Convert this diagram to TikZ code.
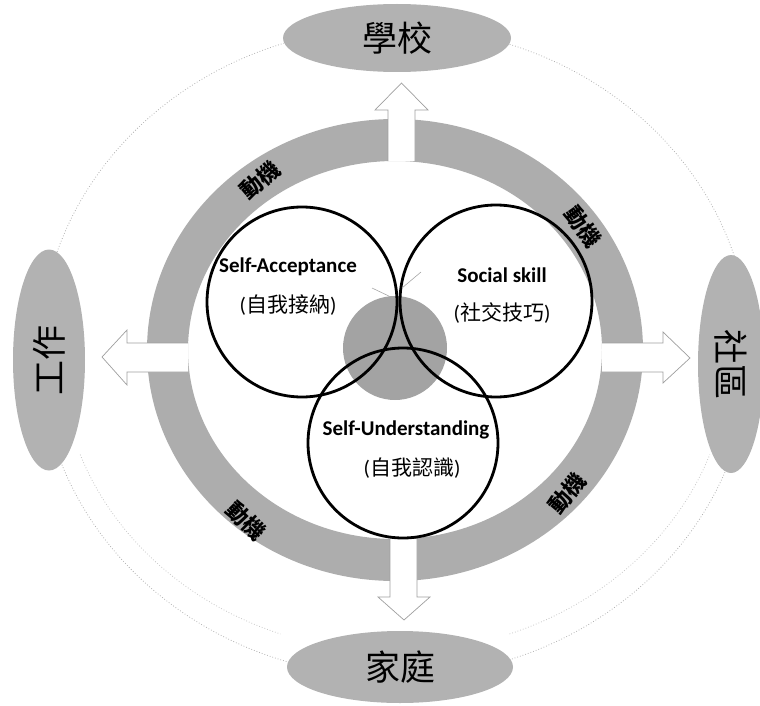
\documentclass[tikz,border=0pt]{standalone}
\usepackage{fontspec}
\setmainfont{Carlito}
\newfontfamily\cjk{Noto Sans CJK TC}
\usetikzlibrary{shapes.geometric}
\definecolor{ringgray}{gray}{0.68}
\definecolor{ellgray}{gray}{0.70}
\definecolor{centgray}{gray}{0.64}
\tikzset{
  placebox/.style={ellipse, fill=ellgray, inner sep=0pt, font=\cjk\fontsize{35}{35}\selectfont},
  bigarrow/.style={fill=white},
  arrowline/.style={draw=gray!75, line width=0.7pt},
  circ/.style={circle, draw=black, line width=2.8pt, inner sep=0pt},
  entxt/.style={font=\bfseries\fontsize{21}{24}\selectfont},
  zhtxt/.style={font=\fontsize{21}{24}\selectfont},
  ringtxt/.style={font=\cjk\bfseries\fontsize{22}{22}\selectfont, inner sep=0pt},
  faintdot/.style={draw=gray!60, dotted, line width=0.8pt}
}
\begin{document}
\begin{tikzpicture}[x=1pt,y=-1pt]
\useasboundingbox (0,0) rectangle (760,706);
\coordinate (c) at (395,352);
% faint outer dotted orbit
\draw[faintdot] (c) ellipse [x radius=355pt, y radius=325pt];
\draw[faintdot, draw=gray!45] (c) ++(200:335pt and 300pt) arc[start angle=200, end angle=250, x radius=335pt, y radius=300pt];
\draw[faintdot, draw=gray!45] (c) ++(290:335pt and 300pt) arc[start angle=290, end angle=340, x radius=335pt, y radius=300pt];
% outer ellipses
\node[placebox, minimum width=228pt, minimum height=68pt] (school) at (397,38) {學校};
\node[placebox, minimum width=226pt, minimum height=72pt] (home) at (400,667) {家庭};
\node[placebox, minimum width=221pt, minimum height=72pt, rotate=90] (work) at (49,360) {工作};
\node[placebox, minimum width=218pt, minimum height=66pt, rotate=-90] (comm) at (731,364) {社區};
% ring
\fill[ringgray, even odd rule] (395,350) ellipse [x radius=248pt, y radius=231pt]
                               (395,350) ellipse [x radius=207pt, y radius=189pt];
% block arrows
\fill[bigarrow] (388,161) -- (388,110) -- (375,110) -- (401.5,83) -- (428,110) -- (415,110) -- (415,161) -- cycle;
\draw[arrowline] (388,161) -- (388,110) -- (375,110) -- (401.5,83) -- (428,110) -- (415,110) -- (415,161);
\fill[bigarrow] (390,539) -- (390,597) -- (378,597) -- (404,620) -- (430,597) -- (417,597) -- (417,539) -- cycle;
\draw[arrowline] (390,539) -- (390,597) -- (378,597) -- (404,620) -- (430,597) -- (417,597) -- (417,539);
\fill[bigarrow] (188,343) -- (127,343) -- (127,330) -- (102,357) -- (127,385) -- (127,372) -- (188,372) -- cycle;
\draw[arrowline] (188,343) -- (127,343) -- (127,330) -- (102,357) -- (127,385) -- (127,372) -- (188,372);
\fill[bigarrow] (602,343) -- (663,343) -- (663,332) -- (690,358) -- (663,383) -- (663,372) -- (602,372) -- cycle;
\draw[arrowline] (602,343) -- (663,343) -- (663,332) -- (690,358) -- (663,383) -- (663,372) -- (602,372);
% central gray disc
\node[circle, fill=centgray, minimum size=104pt, inner sep=0pt] (core) at (395,348) {};
% three circles
\node[circ, minimum size=190pt] (acc) at (302,302) {};
\node[circ, minimum size=192pt] (soc) at (496,301) {};
\node[circ, minimum size=190pt] (und) at (403,443) {};
% small strokes near the top meeting point
\draw[gray!70, line width=0.6pt] (372,288) -- (393,298);
\draw[gray!70, line width=0.6pt] (421,272) -- (402,288);
% circle texts
\node[entxt] (accA) at (288,267) {Self-Acceptance};
\node[zhtxt] (accB) at (288,305) {({\cjk 自我接納})};
\node[entxt] (socA) at (502,275) {Social skill};
\node[zhtxt] (socB) at (502,313) {({\cjk 社交技巧})};
\node[entxt] (undA) at (406,430) {Self-Understanding};
\node[zhtxt] (undB) at (412,468) {({\cjk 自我認識})};
% ring labels
\node[ringtxt, rotate=40] (m1) at (260,180) {動機};
\node[ringtxt, rotate=-55] (m2) at (583,227) {動機};
\node[ringtxt, rotate=-45] (m3) at (246,521) {動機};
\node[ringtxt, rotate=50] (m4) at (567,493) {動機};
\end{tikzpicture}
\end{document}
